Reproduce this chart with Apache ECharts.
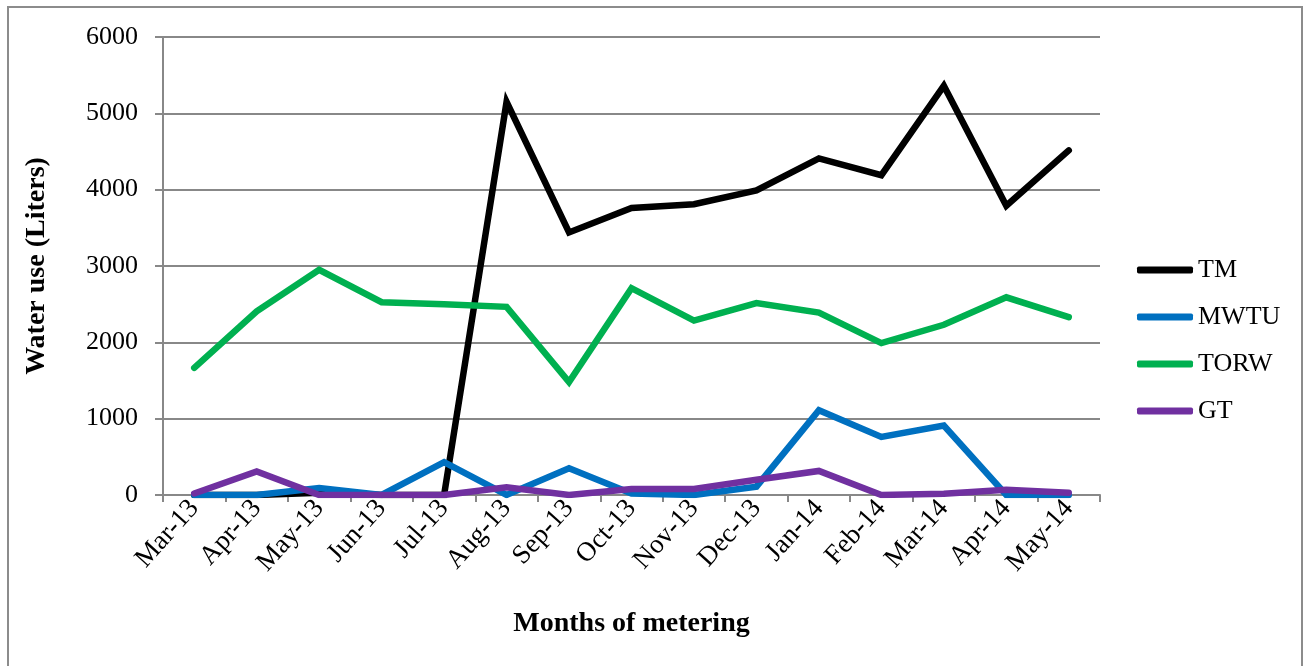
<!DOCTYPE html>
<html>
<head>
<meta charset="utf-8">
<title>Water use</title>
<script src="https://cdn.jsdelivr.net/npm/echarts@6/dist/echarts.min.js"></script>
<style>
html,body{margin:0;padding:0;background:#fff;}
#main{width:1305px;height:666px;}
</style>
</head>
<body>
<div id="main"></div>
<script>
/*月份*/
var months = ['Mar-13','Apr-13','May-13','Jun-13','Jul-13','Aug-13','Sep-13','Oct-13','Nov-13','Dec-13','Jan-14','Feb-14','Mar-14','Apr-14','May-14'];
/*各系列用水量(升)*/
var tmData   = [0, 0, 30, 0, 0, 5150, 3440, 3760, 3810, 3990, 4410, 4190, 5360, 3790, 4515];
var mwtuData = [0, 0, 90, 0, 430, 0, 350, 20, 0, 110, 1110, 760, 910, 0, 0];
var torwData = [1665, 2405, 2950, 2525, 2500, 2465, 1480, 2710, 2285, 2515, 2390, 1990, 2230, 2590, 2330];
var gtData   = [20, 310, 0, 0, 0, 100, 0, 80, 80, 200, 315, 0, 15, 70, 30];
var yTicks = [0, 1000, 2000, 3000, 4000, 5000, 6000];

var fontName = 'Liberation Serif';

function lineSeries(name, data, color){
	return {
		name : name,
		type : 'line',
		data : data,
		symbol : 'none',
		lineStyle : { width : 6.5, color : color, join : 'miter', cap : 'round' },
		itemStyle : { color : color },
		emphasis : { disabled : true }
	};
}

var chart = echarts.init(document.getElementById('main'));
var option = {
	animation : false,
	backgroundColor : '#fff',
	graphic : [{
		type : 'rect',
		shape : { x : 8, y : 7, width : 1294, height : 680 },
		style : { fill : 'none', stroke : '#8c8c8c', lineWidth : 2 },
		silent : true
	}],
	grid : {
		left : 163,
		right : 205,
		top : 37,
		bottom : 171
	},
	legend : {
		orient : 'vertical',
		left : 1132,
		top : 252,
		itemWidth : 56,
		itemHeight : 7,
		itemGap : 21,
		icon : 'roundRect',
		textStyle : { fontFamily : fontName, fontSize : 26, color : '#000', padding : [0, 0, 0, 0] },
		data : ['TM', 'MWTU', 'TORW', 'GT']
	},
	xAxis : {
		type : 'category',
		data : months,
		boundaryGap : true,
		name : 'Months of metering',
		nameLocation : 'middle',
		nameGap : 115,
		nameTextStyle : { fontFamily : fontName, fontSize : 28, fontWeight : 'bold', color : '#000' },
		axisLine : { lineStyle : { color : '#888', width : 2 } },
		axisTick : { show : true, alignWithLabel : false, length : 7, lineStyle : { color : '#888', width : 2 } },
		axisLabel : {
			rotate : 48,
			interval : 0,
			margin : 9,
			fontFamily : fontName,
			fontSize : 27,
			color : '#000'
		}
	},
	yAxis : {
		type : 'value',
		min : yTicks[0],
		max : yTicks[yTicks.length - 1],
		interval : 1000,
		name : 'Water use (Liters)',
		nameLocation : 'middle',
		nameGap : 112,
		nameRotate : 90,
		nameTextStyle : { fontFamily : fontName, fontSize : 28, fontWeight : 'bold', color : '#000' },
		axisLine : { show : true, lineStyle : { color : '#888', width : 2 } },
		axisTick : { show : true, length : 8, lineStyle : { color : '#888', width : 2 } },
		axisLabel : {
			fontFamily : fontName, fontSize : 26, color : '#000', margin : 25,
			formatter : function(value){ return String(value); }
		},
		splitLine : { lineStyle : { color : '#888', width : 2 } }
	},
	series : [
		lineSeries('TM', tmData, '#000000'),
		lineSeries('MWTU', mwtuData, '#0070c0'),
		lineSeries('TORW', torwData, '#00b050'),
		lineSeries('GT', gtData, '#7030a0')
	]
};
chart.setOption(option);
</script>
</body>
</html>
